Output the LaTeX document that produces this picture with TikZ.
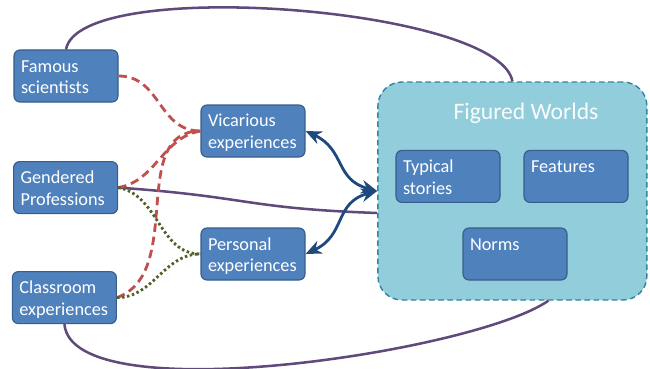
\documentclass[tikz,border=0pt]{standalone}
\usepackage{fontspec}
\setmainfont{Carlito}
\usepackage{tikz}
\usetikzlibrary{arrows.meta}

\definecolor{boxblue}{HTML}{4F81BD}
\definecolor{boxline}{HTML}{385D8A}
\definecolor{worldfill}{HTML}{92CDDC}
\definecolor{worldline}{HTML}{31859C}
\definecolor{linkpurple}{HTML}{604A7B}
\definecolor{linkred}{HTML}{C0504D}
\definecolor{linkgreen}{HTML}{4F6228}
\definecolor{arrowblue}{HTML}{1F497D}

\begin{document}
\begin{tikzpicture}[
  blk/.style={draw=boxline, line width=0.8pt, fill=boxblue, rounded corners=0.15cm, text=white, align=left, text width=2.25cm, inner xsep=0.175cm, inner ysep=0.1cm, text height=0.45cm, text depth=0.65cm, font=\fontsize{13pt}{15.6pt}\selectfont},
  tie/.style={draw=linkpurple, line width=1.8pt},
  rdash/.style={draw=linkred, line width=2pt, dash pattern=on 6pt off 3.5pt},
  gdot/.style={draw=linkgreen, line width=2pt, dash pattern=on 1.8pt off 1.8pt},
  dual/.style={draw=arrowblue, line width=2pt, {Stealth[length=0.4cm,width=0.34cm]}-{Stealth[length=0.4cm,width=0.34cm]}}
]
  \useasboundingbox (0,0) rectangle (16.25,9.2);
  \node (FW) at (12.81,4.425) [draw=worldline, fill=worldfill, line width=1pt, dash pattern=on 4pt off 2.5pt, rounded corners=0.6cm, inner sep=0pt, minimum width=6.725cm, minimum height=5.45cm] {};
  \node (T) at (13.15,6.375) [text=white!95!worldfill, font=\fontsize{16.8pt}{20pt}\selectfont] {Figured Worlds};
  \node[blk] (TS) at (11.2,4.79) {Typical\\stories};
  \node[blk] (FE) at (14.4,4.79) {Features};
  \node[blk] (NO) at (12.875,2.85) {Norms};
  %
  \node[blk] (FS) at (1.65,7.3) {Famous\\scientists};
  \node[blk] (GP) at (1.64,4.51) {Gendered\\Professions};
  \node[blk] (CE) at (1.61,1.76) {Classroom\\experiences};
  \node[blk] (VE) at (6.325,5.925) {Vicarious\\experiences};
  \node[blk] (PE) at (6.325,2.85) {Personal\\experiences};
  %
  \draw[tie] (FS.north) to[out=80,in=100,looseness=0.43] (FW.north);
  \draw[tie] (GP.east) to[out=-4,in=178,looseness=1.3] ([yshift=-0.55cm]FW.west);
  \draw[tie] (CE.south) to[out=-85,in=-145,looseness=0.47] ([xshift=0.9cm]FW.south);
  %
  \draw[rdash] (FS.east) to[out=0,in=180,looseness=1.1] (VE.west);
  \draw[rdash] (GP.east) to[out=10,in=190] (VE.west);
  \draw[rdash] (CE.east) to[out=20,in=180] (VE.west);
  \draw[gdot] (GP.east) to[out=-10,in=180] (PE.west);
  \draw[gdot] (CE.east) to[out=0,in=180] (PE.west);
  %
  \draw[dual] (VE.east) to[out=-25,in=165,looseness=1.2] (FW.west);
  \draw[dual] (PE.east) to[out=25,in=195,looseness=1.2] (FW.west);
\end{tikzpicture}
\end{document}
